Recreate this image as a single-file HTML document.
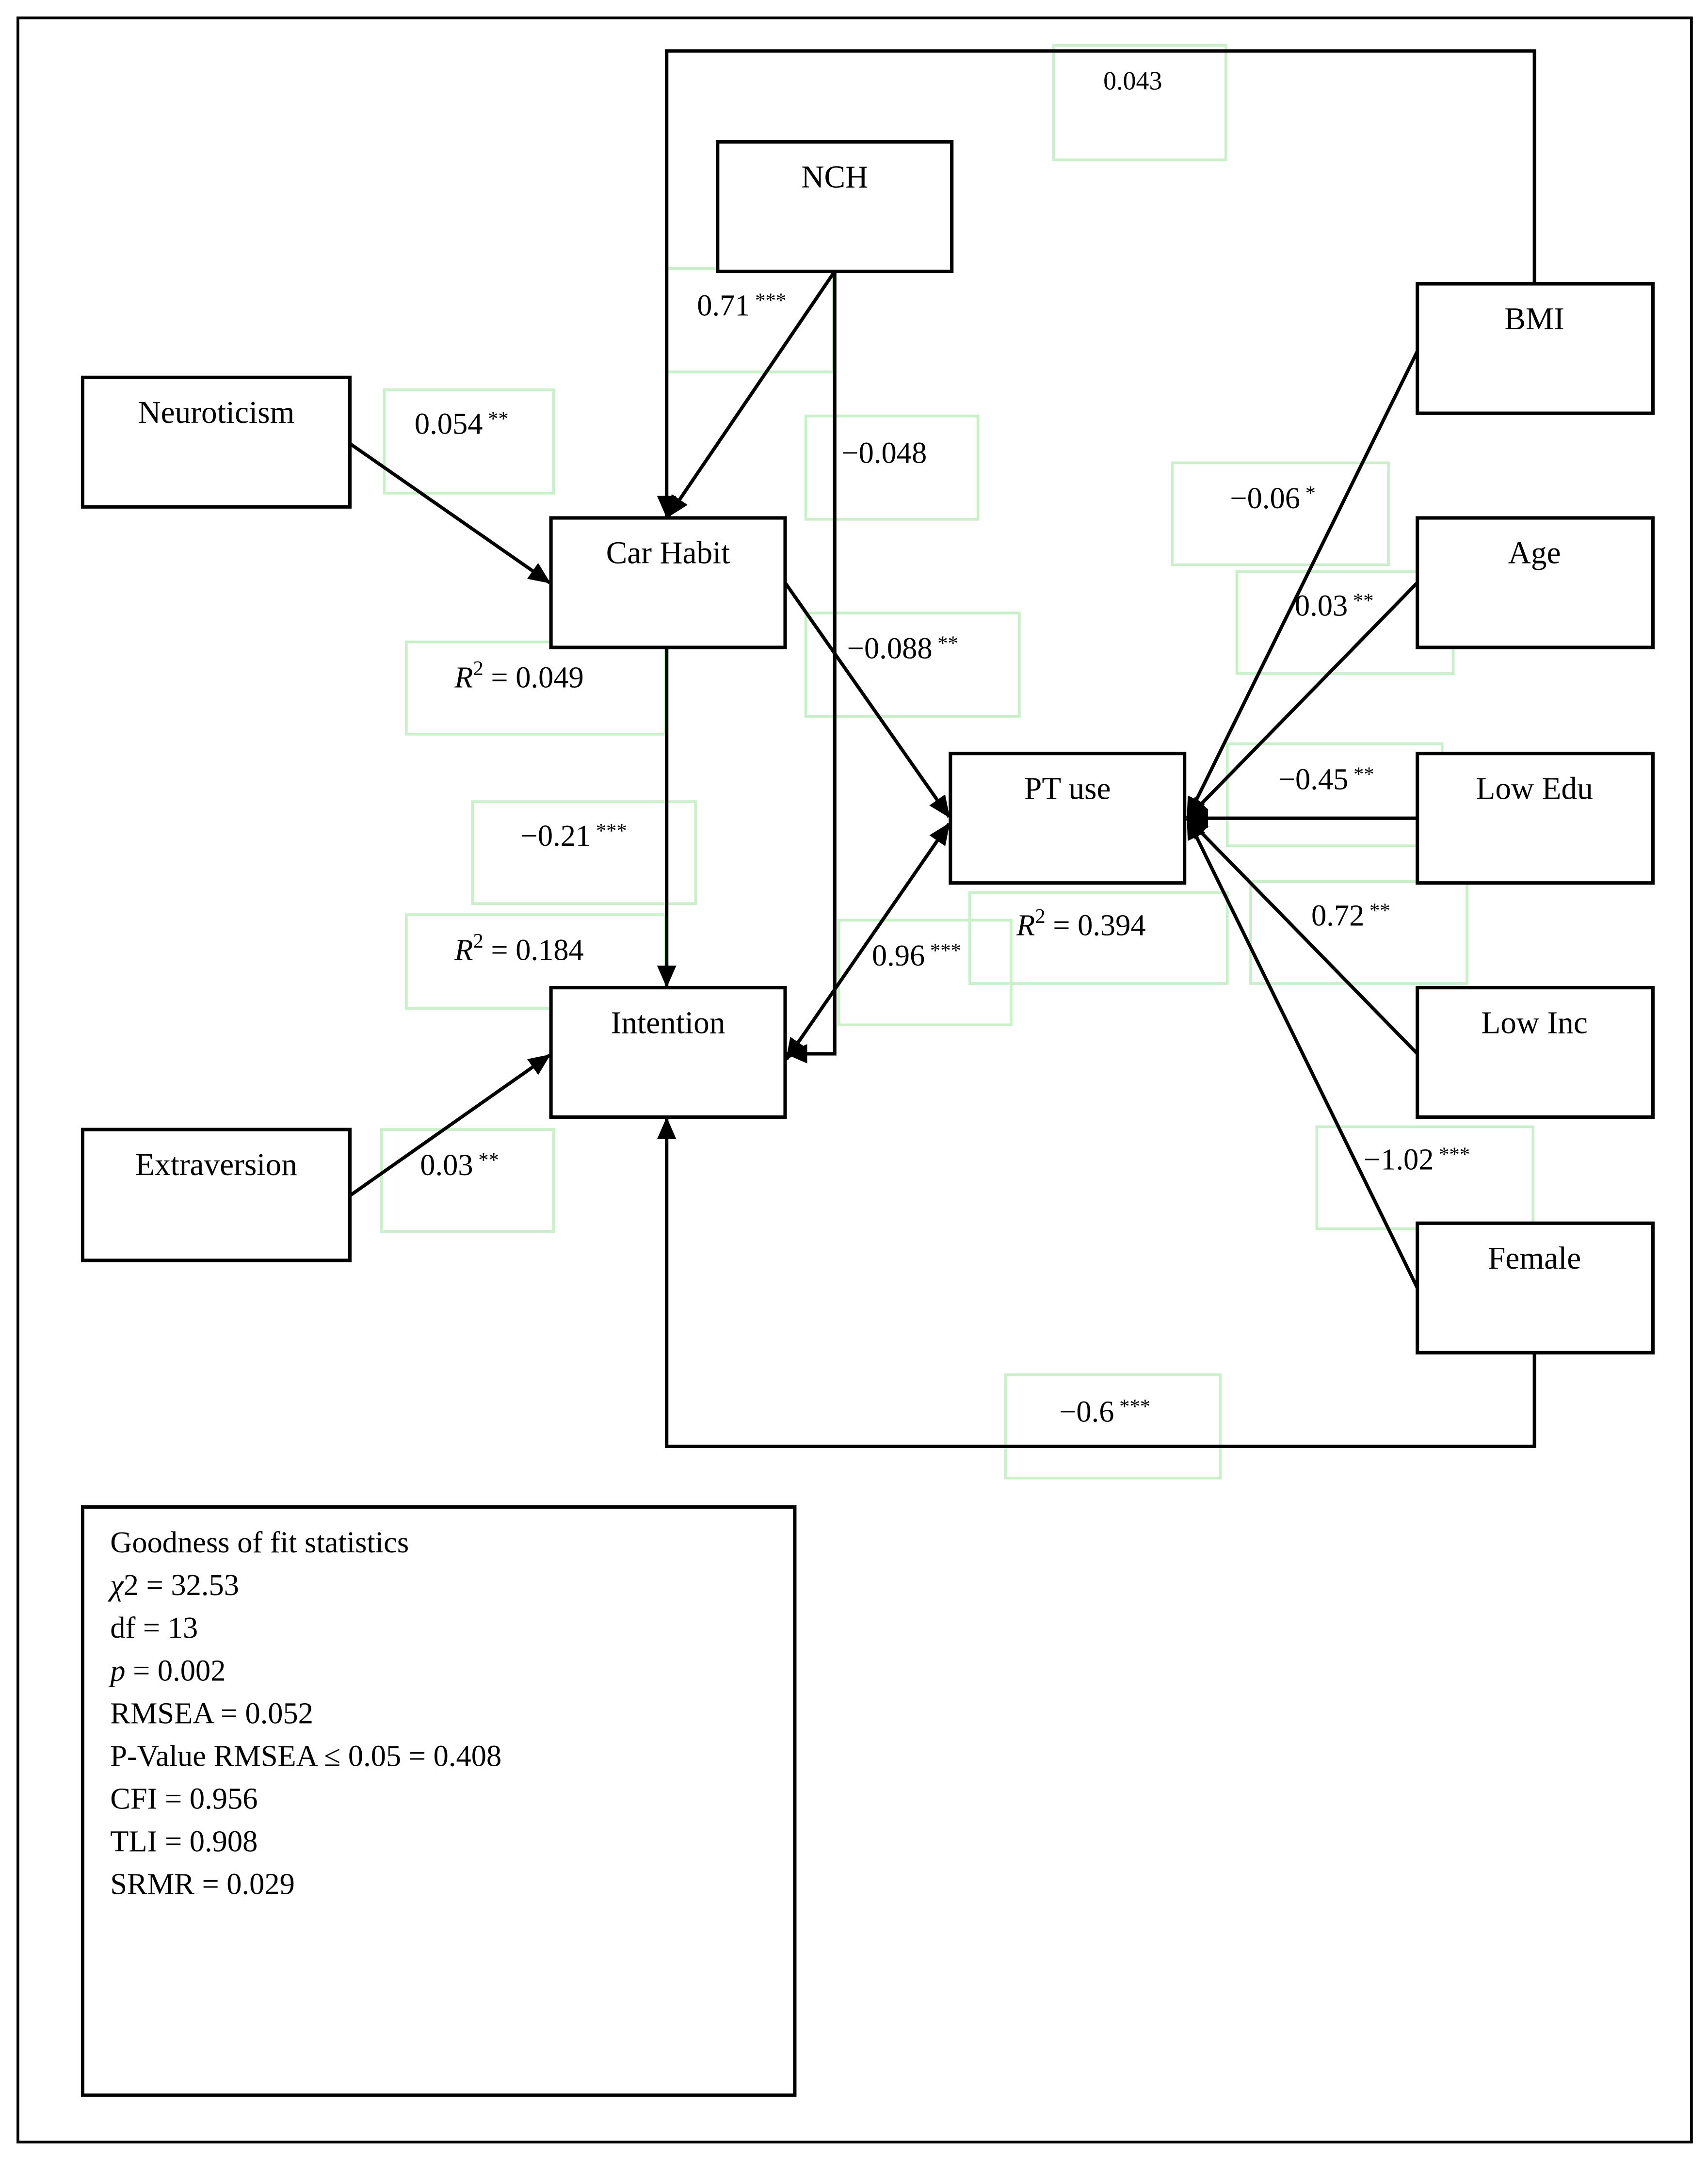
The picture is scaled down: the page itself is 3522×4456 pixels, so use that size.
<!DOCTYPE html>
<html><head><meta charset="utf-8">
<style>
html,body{margin:0;padding:0;background:#fff;}
svg{display:block;}
text{font-family:"Liberation Serif",serif;fill:#000;}
</style></head>
<body>
<svg width="3522" height="4456" viewBox="0 0 1240 1568.8" preserveAspectRatio="none" xmlns="http://www.w3.org/2000/svg">
<defs>
<marker id="a" markerWidth="10" markerHeight="10" refX="9" refY="5" orient="auto" markerUnits="userSpaceOnUse" viewBox="0 0 10 10">
<path d="M0,0 L10,5 L0,10 z" fill="#000" transform="scale(1)"/>
</marker>
<marker id="A" markerWidth="16" markerHeight="14" refX="15" refY="7" orient="auto" markerUnits="userSpaceOnUse">
<path d="M0,0 L16,7 L0,14 z" fill="#000"/>
</marker>
<marker id="S" markerWidth="16" markerHeight="14" refX="1" refY="7" orient="auto" markerUnits="userSpaceOnUse">
<path d="M16,0 L0,7 L16,14 z" fill="#000"/>
</marker>
</defs>
<rect x="0" y="0" width="1240" height="1569" fill="#fff"/>
<rect x="13" y="13" width="1215" height="1542" fill="none" stroke="#000" stroke-width="2"/>

<!-- green label boxes -->
<g fill="none" stroke="#c9f0c9" stroke-width="2">
<rect x="765" y="33" width="125" height="83"/>
<rect x="484" y="195" width="121" height="75"/>
<rect x="279" y="283" width="123" height="75"/>
<rect x="585" y="302" width="125" height="75"/>
<rect x="851" y="336" width="157" height="74"/>
<rect x="898" y="415" width="157" height="74"/>
<rect x="295" y="466" width="188" height="67"/>
<rect x="585" y="445" width="155" height="75"/>
<rect x="343" y="582" width="162" height="74"/>
<rect x="891" y="540" width="156" height="74"/>
<rect x="295" y="664" width="188" height="68"/>
<rect x="609" y="668" width="125" height="76"/>
<rect x="704" y="648" width="187" height="66"/>
<rect x="908" y="640" width="157" height="74"/>
<rect x="277" y="820" width="125" height="74"/>
<rect x="956" y="818" width="157" height="74"/>
<rect x="730" y="998" width="156" height="75"/>
</g>

<!-- connectors -->
<g fill="none" stroke="#000" stroke-width="2.5">
<polyline points="1114,206 1114,37 484,37 484,375" marker-end="url(#A)"/>
<line x1="606" y1="197" x2="485" y2="375" marker-end="url(#A)"/>
<polyline points="606,197 606,765 571,765" marker-end="url(#A)"/>
<line x1="254" y1="322" x2="399" y2="423" marker-end="url(#A)"/>
<line x1="570" y1="423" x2="689" y2="593" marker-end="url(#A)"/>
<line x1="484" y1="470" x2="484" y2="716" marker-end="url(#A)"/>
<line x1="571" y1="769" x2="689" y2="598" marker-start="url(#S)" marker-end="url(#A)"/>
<line x1="254" y1="868" x2="399" y2="766" marker-end="url(#A)"/>
<line x1="1029" y1="255" x2="862" y2="594" marker-end="url(#A)"/>
<line x1="1029" y1="423" x2="862" y2="594" marker-end="url(#A)"/>
<line x1="1029" y1="594" x2="862" y2="594" marker-end="url(#A)"/>
<line x1="1029" y1="765" x2="862" y2="594" marker-end="url(#A)"/>
<line x1="1029" y1="935" x2="862" y2="594" marker-end="url(#A)"/>
<polyline points="1114,982 1114,1050 484,1050 484,812" marker-end="url(#A)"/>
</g>

<!-- nodes -->
<g fill="#fff" stroke="#000" stroke-width="2.5">
<rect x="521" y="103" width="170" height="94"/>
<rect x="60" y="274" width="194" height="94"/>
<rect x="400" y="376" width="170" height="94"/>
<rect x="690" y="547" width="170" height="94"/>
<rect x="400" y="717" width="170" height="94"/>
<rect x="60" y="820" width="194" height="95"/>
<rect x="1029" y="206" width="171" height="94"/>
<rect x="1029" y="376" width="171" height="94"/>
<rect x="1029" y="547" width="171" height="94"/>
<rect x="1029" y="717" width="171" height="94"/>
<rect x="1029" y="888" width="171" height="94"/>
<rect x="60" y="1094" width="517" height="427"/>
</g>

<g font-size="23" text-anchor="middle">
<text x="606" y="136">NCH</text>
<text x="157" y="307">Neuroticism</text>
<text x="485" y="409">Car Habit</text>
<text x="775" y="580">PT use</text>
<text x="485" y="750">Intention</text>
<text x="157" y="853">Extraversion</text>
<text x="1114" y="239">BMI</text>
<text x="1114" y="409">Age</text>
<text x="1114" y="580">Low Edu</text>
<text x="1114" y="750">Low Inc</text>
<text x="1114" y="921">Female</text>
</g>

<g font-size="22">
<text x="801" y="65" font-size="19">0.043</text>
<text x="506" y="229">0.71<tspan font-size="15" dy="-6"> ***</tspan></text>
<text x="301" y="315">0.054<tspan font-size="15" dy="-6"> **</tspan></text>
<text x="611" y="336">−0.048</text>
<text x="893" y="369">−0.06<tspan font-size="15" dy="-6"> *</tspan></text>
<text x="940" y="447">0.03<tspan font-size="15" dy="-6"> **</tspan></text>
<text x="330" y="499"><tspan font-style="italic">R</tspan><tspan font-size="15" dy="-9">2</tspan><tspan dy="9"> = 0.049</tspan></text>
<text x="615" y="478">−0.088<tspan font-size="15" dy="-6"> **</tspan></text>
<text x="378" y="614">−0.21<tspan font-size="15" dy="-6"> ***</tspan></text>
<text x="928" y="573">−0.45<tspan font-size="15" dy="-6"> **</tspan></text>
<text x="330" y="697"><tspan font-style="italic">R</tspan><tspan font-size="15" dy="-9">2</tspan><tspan dy="9"> = 0.184</tspan></text>
<text x="633" y="701">0.96<tspan font-size="15" dy="-6"> ***</tspan></text>
<text x="738" y="679"><tspan font-style="italic">R</tspan><tspan font-size="15" dy="-9">2</tspan><tspan dy="9"> = 0.394</tspan></text>
<text x="952" y="672">0.72<tspan font-size="15" dy="-6"> **</tspan></text>
<text x="305" y="853">0.03<tspan font-size="15" dy="-6"> **</tspan></text>
<text x="990" y="849">−1.02<tspan font-size="15" dy="-6"> ***</tspan></text>
<text x="769" y="1032">−0.6<tspan font-size="15" dy="-6"> ***</tspan></text>
</g>

<g font-size="22">
<text x="80" y="1127">Goodness of fit statistics</text>
<text x="80" y="1158"><tspan font-style="italic">χ</tspan>2 = 32.53</text>
<text x="80" y="1189">df = 13</text>
<text x="80" y="1220"><tspan font-style="italic">p</tspan> = 0.002</text>
<text x="80" y="1251">RMSEA = 0.052</text>
<text x="80" y="1282">P-Value RMSEA ≤ 0.05 = 0.408</text>
<text x="80" y="1313">CFI = 0.956</text>
<text x="80" y="1344">TLI = 0.908</text>
<text x="80" y="1375">SRMR = 0.029</text>
</g>
</svg>
</body></html>
